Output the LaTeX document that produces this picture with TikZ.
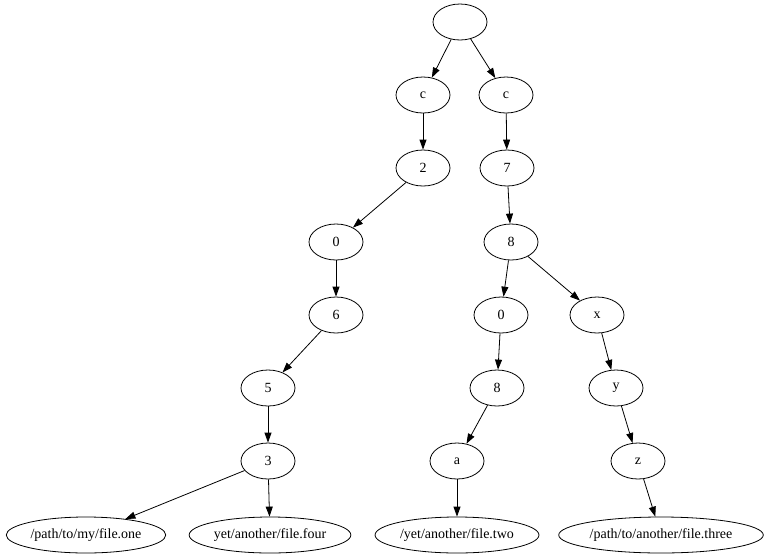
\documentclass[tikz,border=0pt]{standalone}
\usepackage{fontspec}
\setmainfont{Liberation Serif}
\usetikzlibrary{shapes.geometric,arrows.meta}
\tikzset{
  trie/.style={draw,ellipse,line width=0.8pt,minimum width=54pt,minimum height=36pt,
    inner xsep=1pt,inner ysep=0pt,font=\fontsize{14pt}{16pt}\selectfont},
  edge/.style={line width=0.8pt,-{Triangle[length=10pt,width=7pt]}}
}
\begin{document}
\begin{tikzpicture}[x=1pt,y=-1pt]
  \useasboundingbox (0,0) rectangle (768,557);
  % root and first letters
  \node[trie] (root) at (460,22) {};
  \node[trie] (lc) at (423,95) {c};
  \node[trie] (rc) at (506,95) {c};
  % left branch
  \node[trie] (l2) at (423,168) {2};
  \node[trie] (l0) at (336,242) {0};
  \node[trie] (l6) at (336,315) {6};
  \node[trie] (l5) at (268,388) {5};
  \node[trie] (l3) at (268,461) {3};
  % right branch
  \node[trie] (r7) at (507,168) {7};
  \node[trie] (r8) at (511,242) {8};
  \node[trie] (r0) at (501,315) {0};
  \node[trie] (rx) at (597,315) {x};
  \node[trie] (r8b) at (497,388) {8};
  \node[trie] (ry) at (616,388) {y};
  \node[trie] (ra) at (457,461) {a};
  \node[trie] (rz) at (638,461) {z};
  % file leaves
  \node[trie] (fOne) at (86,535) {/path/to/my/file.one};
  \node[trie] (fFour) at (270,535) {yet/another/file.four};
  \node[trie] (fTwo) at (457,535) {/yet/another/file.two};
  \node[trie] (fThree) at (661,535) {/path/to/another/file.three};
  % edges, left
  \draw[edge] (root) -- (lc);
  \draw[edge] (lc) -- (l2);
  \draw[edge] (l2) -- (l0);
  \draw[edge] (l0) -- (l6);
  \draw[edge] (l6) -- (l5);
  \draw[edge] (l5) -- (l3);
  \draw[edge] (l3) -- (fOne);
  \draw[edge] (l3) -- (fFour);
  % edges, right
  \draw[edge] (root) -- (rc);
  \draw[edge] (rc) -- (r7);
  \draw[edge] (r7) -- (r8);
  \draw[edge] (r8) -- (r0);
  \draw[edge] (r8) -- (rx);
  \draw[edge] (r0) -- (r8b);
  \draw[edge] (rx) -- (ry);
  \draw[edge] (r8b) -- (ra);
  \draw[edge] (ry) -- (rz);
  \draw[edge] (ra) -- (fTwo);
  \draw[edge] (rz) -- (fThree);
\end{tikzpicture}
\end{document}
